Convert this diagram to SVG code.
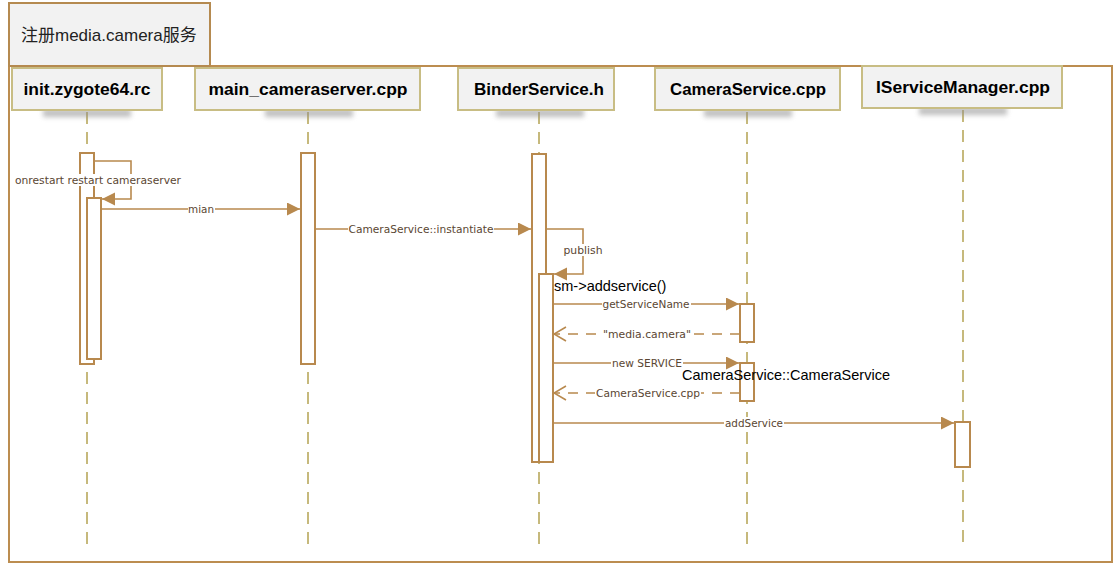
<svg xmlns="http://www.w3.org/2000/svg" width="1117" height="565" viewBox="0 0 1117 565">
<defs>
<style>
.frame{fill:none;stroke:#bc8d50;stroke-width:2}
.title{fill:#f2f2f2;stroke:#b58a50;stroke-width:2}
.head{fill:#f2f2f2;stroke:#c8bd84;stroke-width:2}
.htxt{font-family:"Liberation Sans",Arial,sans-serif;font-weight:bold;font-size:16px;fill:#000;text-anchor:middle}
.life{stroke:#c6b97c;stroke-width:2;stroke-dasharray:12 8;fill:none}
.bar{fill:#fff;stroke:#b8894e;stroke-width:2}
.msg{fill:none;stroke:#b8894e;stroke-width:1.6}
.ret{fill:none;stroke:#b8894e;stroke-width:1.6;stroke-dasharray:10 8}
.lbl{font-family:"DejaVu Sans","Liberation Sans",sans-serif;font-size:10px;fill:#5a4632;text-anchor:middle}
.lbg{fill:#fff}
.note{font-family:"Liberation Sans",Arial,sans-serif;font-size:14.5px;fill:#000}
.shadow{fill:#8c8c8c;opacity:0.55}
</style>
<filter id="blur" x="-20%" y="-100%" width="140%" height="300%"><feGaussianBlur stdDeviation="2.5"/></filter>
<marker id="fill" markerUnits="userSpaceOnUse" markerWidth="14" markerHeight="14" refX="13" refY="6.5" orient="auto"><path d="M0,0 L13,6.5 L0,13 z" fill="#b8894e"/></marker>
<marker id="open" markerUnits="userSpaceOnUse" markerWidth="14" markerHeight="16" refX="13" refY="8" orient="auto"><path d="M1,1 L13,8 L1,15" fill="none" stroke="#b8894e" stroke-width="1.6"/></marker>
</defs>

<rect class="frame" x="9" y="66" width="1103" height="496"/>
<g id="title">
<rect class="title" x="9" y="3" width="201" height="63"/>
<text x="21" y="41" font-family="'Liberation Sans','Noto Sans CJK SC',sans-serif" font-size="17" fill="#222">注册media.camera服务</text>
</g>

<g id="lifelines">
<line class="life" x1="87" y1="112" x2="87" y2="548"/>
<line class="life" x1="308" y1="112" x2="308" y2="548"/>
<line class="life" x1="539" y1="112" x2="539" y2="548"/>
<line class="life" x1="747" y1="112" x2="747" y2="548"/>
<line class="life" x1="963" y1="110" x2="963" y2="548"/>
</g>

<g id="n_init">
<rect class="shadow" filter="url(#blur)" x="43" y="109" width="88" height="8"/>
<rect class="head" x="12" y="68" width="150" height="42"/>
<text class="htxt" x="87" y="95" textLength="127" lengthAdjust="spacingAndGlyphs">init.zygote64.rc</text>
</g>
<g id="n_main">
<rect class="shadow" filter="url(#blur)" x="265" y="109" width="88" height="8"/>
<rect class="head" x="195" y="68" width="225" height="42"/>
<text class="htxt" x="308" y="95" textLength="199" lengthAdjust="spacingAndGlyphs">main_cameraserver.cpp</text>
</g>
<g id="n_binder">
<rect class="shadow" filter="url(#blur)" x="496" y="109" width="88" height="8"/>
<rect class="head" x="458" y="68" width="156" height="42"/>
<text class="htxt" x="539" y="95" textLength="130" lengthAdjust="spacingAndGlyphs">BinderService.h</text>
</g>
<g id="n_camera">
<rect class="shadow" filter="url(#blur)" x="704" y="109" width="88" height="8"/>
<rect class="head" x="655" y="68" width="185" height="42"/>
<text class="htxt" x="748" y="95" textLength="156" lengthAdjust="spacingAndGlyphs">CameraService.cpp</text>
</g>
<g id="n_ism">
<rect class="shadow" filter="url(#blur)" x="919" y="107" width="88" height="8"/>
<rect class="head" x="862" y="66" width="200" height="42"/>
<text class="htxt" x="963" y="93" textLength="174" lengthAdjust="spacingAndGlyphs">IServiceManager.cpp</text>
</g>

<g id="activations">
<rect class="bar" x="80" y="153" width="14" height="211"/>
<rect class="bar" x="87" y="198" width="14" height="161"/>
<rect class="bar" x="301" y="153" width="14" height="211"/>
<rect class="bar" x="532" y="154" width="14" height="308"/>
<rect class="bar" x="539" y="274" width="14" height="188"/>
<rect class="bar" x="740" y="304" width="14" height="38"/>
<rect class="bar" x="740" y="363" width="14" height="38"/>
<rect class="bar" x="955" y="422" width="15" height="45"/>
</g>

<g id="connectors">
<path class="msg" d="M94,161 H131 V199 H102" marker-end="url(#fill)"/>
<line class="msg" x1="101" y1="209" x2="300" y2="209" marker-end="url(#fill)"/>
<line class="msg" x1="315" y1="229" x2="531" y2="229" marker-end="url(#fill)"/>
<path class="msg" d="M546,229 H583 V274 H554" marker-end="url(#fill)"/>
<line class="msg" x1="553" y1="304" x2="739" y2="304" marker-end="url(#fill)"/>
<line class="ret" x1="740" y1="334" x2="554" y2="334" marker-end="url(#open)"/>
<line class="msg" x1="553" y1="363" x2="739" y2="363" marker-end="url(#fill)"/>
<line class="ret" x1="740" y1="393" x2="554" y2="393" marker-end="url(#open)"/>
<line class="msg" x1="553" y1="423" x2="954" y2="423" marker-end="url(#fill)"/>
</g>

<g id="labels">
<rect class="lbg" x="15" y="174" width="167" height="12"/>
<text class="lbl" x="98" y="184" textLength="166" lengthAdjust="spacingAndGlyphs">onrestart restart cameraserver</text>
<rect class="lbg" x="188" y="203" width="27" height="12"/>
<text class="lbl" x="201" y="213" textLength="26" lengthAdjust="spacingAndGlyphs">mian</text>
<rect class="lbg" x="348" y="223" width="146" height="12"/>
<text class="lbl" x="421" y="233" textLength="145" lengthAdjust="spacingAndGlyphs">CameraService::instantiate</text>
<rect class="lbg" x="563" y="244" width="41" height="12"/>
<text class="lbl" x="583" y="254" textLength="39" lengthAdjust="spacingAndGlyphs">publish</text>
<text class="note" x="554" y="291">sm-&gt;addservice()</text>
<rect class="lbg" x="602" y="298" width="89" height="12"/>
<text class="lbl" x="646" y="308" textLength="87" lengthAdjust="spacingAndGlyphs">getServiceName</text>
<rect class="lbg" x="602" y="328" width="90" height="12"/>
<text class="lbl" x="647" y="338" textLength="88" lengthAdjust="spacingAndGlyphs">"media.camera"</text>
<rect class="lbg" x="611" y="357" width="72" height="12"/>
<text class="lbl" x="647" y="367" textLength="70" lengthAdjust="spacingAndGlyphs">new SERVICE</text>
<rect class="lbg" x="595" y="387" width="106" height="12"/>
<text class="lbl" x="648" y="397" textLength="104" lengthAdjust="spacingAndGlyphs">CameraService.cpp</text>
<rect class="lbg" x="724" y="417" width="60" height="12"/>
<text class="lbl" x="754" y="427" textLength="58" lengthAdjust="spacingAndGlyphs">addService</text>
<text class="note" x="682" y="380" textLength="208" lengthAdjust="spacingAndGlyphs">CameraService::CameraService</text>
</g>
</svg>
